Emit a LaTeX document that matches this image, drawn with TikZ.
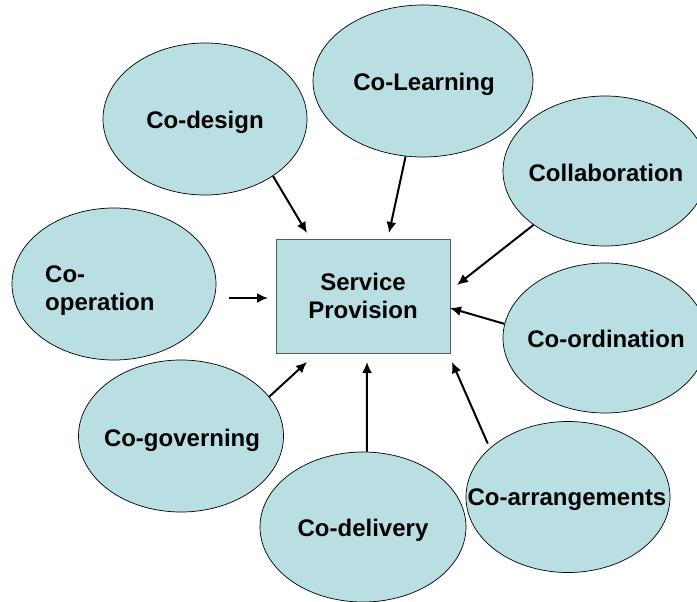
\documentclass[tikz,border=0pt]{standalone}
\usepackage{fontspec}
\setmainfont{Liberation Sans}
\usetikzlibrary{shapes.geometric,arrows.meta}

\begin{document}
\begin{tikzpicture}[x=1pt,y=-1pt,
    bubble/.style={ellipse,draw=black,line width=0.7pt,fill=PaleTeal,
        minimum width=204pt,minimum height=152pt,inner sep=0pt},
    word/.style={font=\fontsize{24}{28}\selectfont\bfseries,inner sep=0pt},
    feed/.style={line width=2pt,-{Latex[length=11pt,width=10pt]}}]
    \definecolor{PaleTeal}{HTML}{B9DFE3}
    \useasboundingbox (0,0) rectangle (697,602);

    % the eight "co-" bubbles
    \node[bubble] (design) at (205,119) {};
    \node[bubble,minimum width=220pt] (learning) at (423,81) {};
    \node[bubble,minimum height=150pt] (collab) at (605,171) {};
    \node[bubble] (coop) at (114,284) {};
    \node[bubble,minimum height=150pt] (coord) at (605,338) {};
    \node[bubble,minimum height=151pt] (arrange) at (568,497) {};
    \node[bubble,minimum width=205pt] (govern) at (181,436) {};
    \node[bubble,minimum width=206pt,minimum height=150pt] (deliver) at (363,527) {};

    \node[word] (design-t) at (205,122) {Co-design};
    \node[word] (learning-t) at (424,84) {Co-Learning};
    \node[word] (collab-t) at (606,173) {Collaboration};
    \node[word,align=left,anchor=west] (coop-t) at (45,291) {Co-\\operation};
    \node[word] (coord-t) at (606,339) {Co-ordination};
    \node[word] (arrange-t) at (567,500) {Co-arrangements};
    \node[word] (govern-t) at (182,440) {Co-governing};
    \node[word] (deliver-t) at (363,530) {Co-delivery};

    % centre box
    \node[word,draw=black!65,line width=0.8pt,fill=PaleTeal,align=center,
        minimum width=174pt,minimum height=114pt] (serv) at (363,296) {Service\\Provision};

    % arrow tips stop short of the box
    \coordinate (design-in) at (307,233);
    \coordinate (learning-in) at (389,233);
    \coordinate (collab-in) at (457,285);
    \coordinate (coord-in) at (450,308);
    \coordinate (arrange-in) at (452,362);
    \coordinate (govern-in) at (307,362);
    \coordinate (deliver-in) at (367,362);
    \coordinate (coop-in) at (268,298);

    \draw[feed] (design.-40) -- (design-in);
    \draw[feed] (learning.-103) -- (learning-in);
    \draw[feed] (collab.-143) -- (collab-in);
    \draw[feed] (coord.172) -- (coord-in);
    \draw[feed,shorten <=5pt] (arrange.148) -- (arrange-in);
    \draw[feed] (govern.24) -- (govern-in);
    \draw[feed] (deliver.87) -- (deliver-in);
    \draw[feed,shorten <=13pt] (coop.east |- coop-in) -- (coop-in);
\end{tikzpicture}
\end{document}
